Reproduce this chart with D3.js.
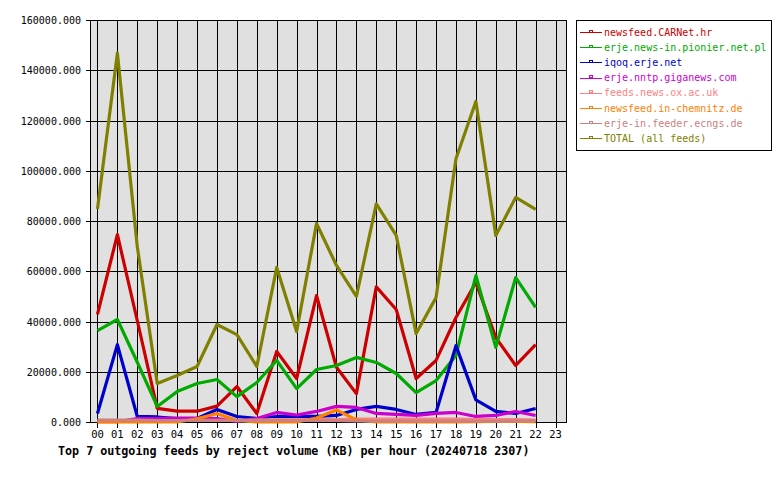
<!DOCTYPE html>
<html>
<head>
<meta charset="utf-8">
<script src="https://cdn.jsdelivr.net/npm/d3@7"></script>
<style>
  body { margin: 0; background: #fff; }
  text { font-family: "DejaVu Sans Mono", monospace; }
</style>
</head>
<body>
<div id="chart"></div>
<script>
// hours of the day, ticks go to 23 but data stops at 22
const hours = d3.range(0, 24).map(h => String(h).padStart(2, "0"));

const feedNames = [
  "newsfeed.CARNet.hr",
  "erje.news-in.pionier.net.pl",
  "iqoq.erje.net",
  "erje.nntp.giganews.com",
  "feeds.news.ox.ac.uk",
  "newsfeed.in-chemnitz.de",
  "erje-in.feeder.ecngs.de",
  "TOTAL (all feeds)"
];
const feedColors = ["#cc0000", "#00aa00", "#0000cc", "#cc00cc", "#ff8080", "#ff8000", "#cc8080", "#808000"];

// KB per hour, 00..22
const carnet   = [43000, 74800, 40500, 5600, 4500, 4500, 6500, 14300, 3600, 28300, 17500, 50500, 22000, 11500, 54000, 45000, 17500, 24700, 41800, 55700, 33800, 22700, 31000];
const pionier  = [36600, 41000, 24000, 6400, 12300, 15500, 17100, 10300, 15900, 24700, 13500, 21100, 22700, 25900, 23900, 19500, 11900, 16700, 26700, 58500, 29900, 57700, 45800];
const iqoq     = [3600, 31000, 2400, 2200, 1600, 1600, 5200, 2400, 1600, 2400, 2400, 2400, 2800, 5200, 6400, 5200, 3200, 4000, 30600, 9000, 4400, 3600, 5600];
const giganews = [300, 300, 1600, 1600, 1800, 1800, 1600, 400, 1600, 4000, 3000, 4400, 6400, 6000, 3600, 3200, 2800, 3600, 4000, 2400, 2800, 4400, 2800];
const oxac     = [600, 600, 800, 800, 800, 900, 900, 900, 1000, 1200, 1200, 1200, 1200, 1400, 1400, 1400, 1400, 1400, 1400, 1200, 1200, 1200, 1000];
const chemnitz = [200, 200, 200, 200, 200, 1500, 3600, 800, 200, 200, 200, 1800, 5000, 1000, 200, 200, 200, 200, 200, 300, 400, 400, 300];
const ecngs    = [1000, 1000, 1000, 800, 800, 800, 800, 800, 800, 800, 800, 800, 800, 600, 600, 600, 600, 600, 600, 600, 600, 700, 700];
const total    = [85000, 147000, 70000, 15500, 18700, 22300, 39000, 35000, 22300, 61700, 36200, 79200, 62500, 50200, 87000, 74500, 35400, 49700, 105000, 127800, 74400, 89600, 84800];

const yTicks = d3.range(0, 160001, 20000);

const series = [carnet, pionier, iqoq, giganews, oxac, chemnitz, ecngs, total];

const width = 780, height = 480;
const plot = { left: 90.5, right: 566.5, top: 20.5, bottom: 422.5 };

const x = d3.scaleLinear().domain([-0.35, 23.55]).range([plot.left, plot.right]);
const y = d3.scaleLinear().domain([0, 160000]).range([plot.bottom, plot.top]);
const fmt = d3.format(".3f");

const svg = d3.select("#chart").append("svg")
    .attr("width", width)
    .attr("height", height);

svg.append("rect")
    .attr("x", plot.left).attr("y", plot.top)
    .attr("width", plot.right - plot.left).attr("height", plot.bottom - plot.top)
    .attr("fill", "#e0e0e0");

// grid, ticks stick out a few pixels past the frame
const grid = svg.append("g").attr("stroke", "#000").attr("stroke-width", 1).attr("shape-rendering", "crispEdges");
grid.selectAll("line.v")
  .data(hours)
  .join("line")
    .attr("class", "v")
    .attr("x1", (d, i) => Math.round(x(i)) + 0.5).attr("x2", (d, i) => Math.round(x(i)) + 0.5)
    .attr("y1", plot.top).attr("y2", plot.bottom + 5);
grid.selectAll("line.h")
  .data(yTicks)
  .join("line")
    .attr("class", "h")
    .attr("x1", plot.left - 5).attr("x2", plot.right)
    .attr("y1", d => Math.round(y(d) - 0.5) + 0.5).attr("y2", d => Math.round(y(d) - 0.5) + 0.5);

svg.append("rect")
    .attr("x", plot.left).attr("y", plot.top)
    .attr("width", plot.right - plot.left).attr("height", plot.bottom - plot.top)
    .attr("fill", "none").attr("stroke", "#000").attr("shape-rendering", "crispEdges");

// axis labels
svg.append("g")
    .attr("font-size", 10)
  .selectAll("text")
  .data(yTicks)
  .join("text")
    .attr("x", 81)
    .attr("y", d => y(d) + 3.5)
    .attr("text-anchor", "end")
    .text(d => fmt(d));

svg.append("g")
    .attr("font-size", 10.5)
  .selectAll("text")
  .data(hours)
  .join("text")
    .attr("x", (d, i) => x(i))
    .attr("y", 438)
    .attr("text-anchor", "middle")
    .text(d => d);

svg.append("text")
    .attr("x", 58)
    .attr("y", 455)
    .attr("font-size", 11.7)
    .attr("font-weight", "bold")
    .text("Top 7 outgoing feeds by reject volume (KB) per hour (20240718 2307)");

// series lines, total drawn last
const line = d3.line()
    .x((d, i) => x(i))
    .y(d => y(d));

svg.append("g")
  .selectAll("path")
  .data(series)
  .join("path")
    .attr("d", d => line(d))
    .attr("fill", "none")
    .attr("stroke", (d, i) => feedColors[i])
    .attr("stroke-width", 3.2)
    .attr("stroke-linejoin", "round");

// legend
const legend = svg.append("g");
legend.append("rect")
    .attr("x", 576.5).attr("y", 20.5)
    .attr("width", 195).attr("height", 130)
    .attr("fill", "#fff").attr("stroke", "#000").attr("shape-rendering", "crispEdges");

const item = legend.selectAll("g.item")
  .data(feedNames)
  .join("g")
    .attr("class", "item")
    .attr("transform", (d, i) => `translate(0, ${32 + i * 15.2})`);

item.append("line")
    .attr("x1", 580).attr("x2", 602)
    .attr("y1", 0.5).attr("y2", 0.5)
    .attr("stroke", (d, i) => feedColors[i])
    .attr("shape-rendering", "crispEdges");
item.append("rect")
    .attr("x", 589).attr("y", -2)
    .attr("width", 3).attr("height", 2)
    .attr("fill", "none")
    .attr("stroke", (d, i) => feedColors[i])
    .attr("stroke-width", 1)
    .attr("shape-rendering", "crispEdges");
item.append("text")
    .attr("x", 604)
    .attr("y", 3.5)
    .attr("font-size", 10)
    .attr("fill", (d, i) => feedColors[i])
    .text(d => d);
</script>
</body>
</html>
